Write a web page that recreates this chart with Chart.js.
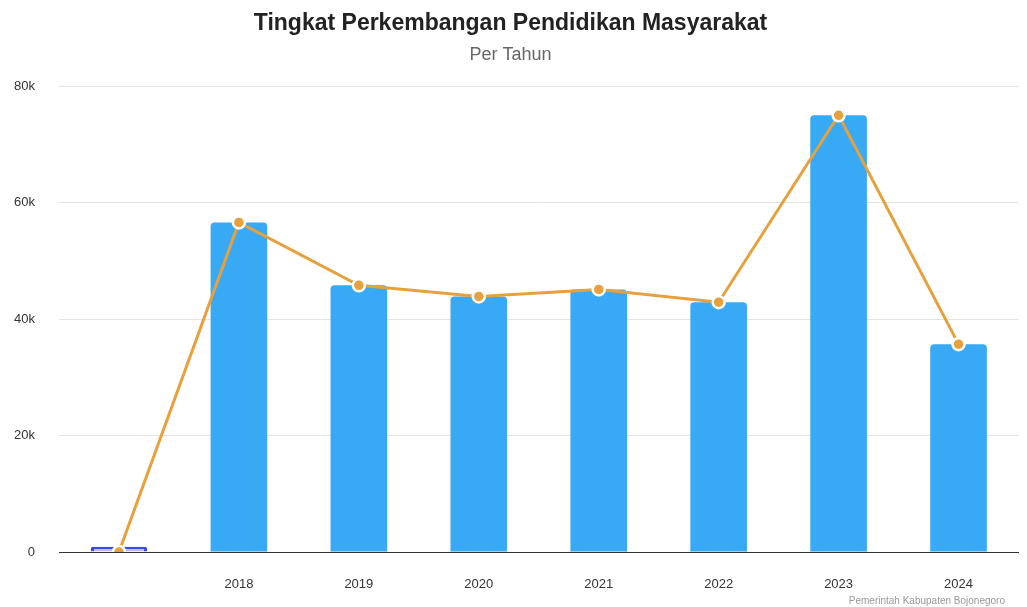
<!DOCTYPE html>
<html>
<head>
<meta charset="utf-8">
<script src="https://cdn.jsdelivr.net/npm/chart.js@4.4.1/dist/chart.umd.min.js"></script>
<style>
html,body{margin:0;padding:0;background:#fff;}
#wrap{width:1027px;height:607px;position:relative;}
</style>
</head>
<body>
<div id="wrap"><canvas id="c"></canvas></div>
<script>
const categories = ["", "2018", "2019", "2020", "2021", "2022", "2023", "2024"];
const barValues = [900, 56600, 45800, 43900, 45100, 42900, 75000, 35700];
const lineValues = [0, 56600, 45800, 43900, 45100, 42900, 75000, 35700];
const yTickLabels = {0: "0", 20000: "20k", 40000: "40k", 60000: "60k", 80000: "80k"};
const titleText = "Tingkat Perkembangan Pendidikan Masyarakat";
const subtitleText = "Per Tahun";
const creditText = "Pemerintah Kabupaten Bojonegoro";

const FONT = "'Liberation Sans', Arial, Helvetica, sans-serif";

const creditPlugin = {
  id: 'credit',
  afterDraw(chart) {
    const ctx = chart.ctx;
    ctx.save();
    ctx.font = "10px " + FONT;
    ctx.fillStyle = "#999";
    ctx.textAlign = "right";
    ctx.textBaseline = "middle";
    ctx.fillText(creditText, 1005, 601);
    ctx.restore();
  }
};

new Chart(document.getElementById('c'), {
  data: {
    labels: categories,
    datasets: [
      {
        type: 'line',
        data: lineValues,
        borderColor: '#e6a13d',
        borderWidth: 3,
        pointRadius: 6,
        pointHoverRadius: 6,
        pointBackgroundColor: '#e6a13d',
        pointBorderColor: '#ffffff',
        pointBorderWidth: 2.5,
        tension: 0,
        order: 0
      },
      {
        type: 'bar',
        data: barValues,
        backgroundColor: barValues.map((v, i) => i === 0 ? '#b9bde6' : '#38a9f5'),
        borderColor: barValues.map((v, i) => i === 0 ? '#3a4be8' : '#38a9f5'),
        borderWidth: barValues.map((v, i) => i === 0 ? 3.5 : 0),
        borderRadius: 4,
        categoryPercentage: 0.8,
        barPercentage: 0.59,
        order: 1
      }
    ]
  },
  options: {
    responsive: true,
    maintainAspectRatio: false,
    animation: false,
    layout: { padding: { left: 0, right: 6, top: 0, bottom: 14 } },
    plugins: {
      legend: { display: false },
      tooltip: { enabled: false },
      title: {
        display: true,
        text: titleText,
        color: '#222',
        font: { family: FONT, size: 23, weight: 'bold' },
        padding: { top: 10, bottom: 7 }
      },
      subtitle: {
        display: true,
        text: subtitleText,
        color: '#666',
        font: { family: FONT, size: 18 },
        padding: { top: 0, bottom: 20 }
      }
    },
    scales: {
      x: {
        afterFit(axis) { axis.height = 41; },
        grid: { display: false, drawTicks: false },
        border: { display: true, color: '#333', width: 1 },
        ticks: {
          color: '#333',
          font: { family: FONT, size: 13 },
          padding: 25,
          maxRotation: 0,
          autoSkip: false
        }
      },
      y: {
        min: 0,
        max: 80000,
        afterFit(axis) { axis.width = 59; },
        grid: { color: '#e3e3e3', drawTicks: false },
        border: { display: false },
        ticks: {
          stepSize: 20000,
          color: '#333',
          font: { family: FONT, size: 13 },
          padding: 24,
          callback: (v) => yTickLabels[v] !== undefined ? yTickLabels[v] : ''
        }
      }
    }
  },
  plugins: [creditPlugin]
});
</script>
</body>
</html>
